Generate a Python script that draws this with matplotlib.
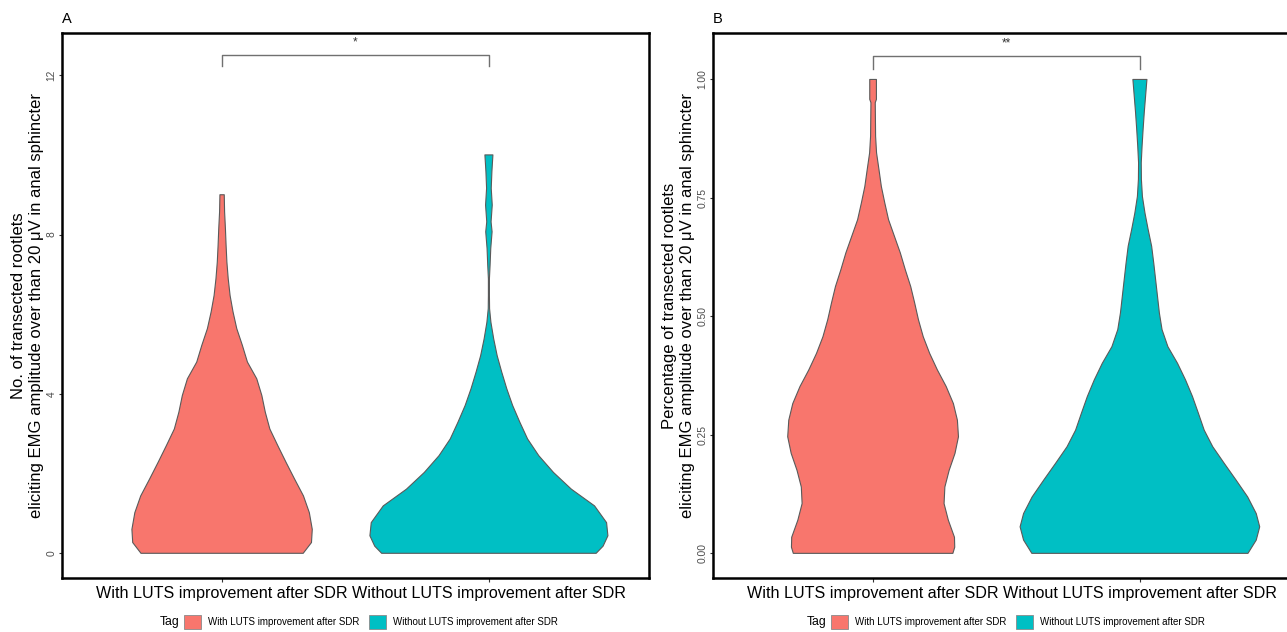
import matplotlib
matplotlib.use('Agg')
import matplotlib.pyplot as plt
from matplotlib.patches import Patch
import numpy as np

plt.rcParams.update({
    'font.family': ['Liberation Sans', 'DejaVu Sans'],
    'axes.linewidth': 1.8,
})

# groups and colours (ggplot defaults)
groups = ['With LUTS improvement after SDR', 'Without LUTS improvement after SDR']
colors = ['#F8766D', '#00BFC4']

# violin outlines: y value -> half width (x units)
# panel A, number of rootlets
a_with_y = [0, 0.27, 0.60, 1.02, 1.44, 1.86, 2.28, 2.70, 3.12, 3.54, 3.96, 4.38,
            4.80, 5.22, 5.64, 6.06, 6.47, 6.89, 7.31, 7.73, 8.15, 8.57, 9.0]
a_with_w = [0.304, 0.335, 0.338, 0.327, 0.305, 0.272, 0.240, 0.209, 0.179, 0.162, 0.149, 0.130,
            0.095, 0.076, 0.055, 0.041, 0.030, 0.023, 0.018, 0.015, 0.0125, 0.0094, 0.0081]
a_without_y = [0, 0.18, 0.44, 0.77, 1.19, 1.61, 2.03, 2.45, 2.87, 3.29, 3.71, 4.13, 4.55,
               4.96, 5.38, 5.80, 6.14, 6.47, 6.89, 7.23, 7.65, 8.07, 8.32, 8.74, 9.16, 9.58, 10.0]
a_without_w = [0.402, 0.428, 0.446, 0.441, 0.396, 0.309, 0.242, 0.187, 0.145, 0.116, 0.089, 0.067, 0.048,
               0.031, 0.018, 0.0075, 0.0025, 0.0019, 0.0019, 0.0044, 0.0069, 0.0119, 0.0081, 0.0125, 0.0087, 0.0112, 0.015]

# panel B, percentage of rootlets
b_with_y = [0, 0.013, 0.034, 0.070, 0.105, 0.140, 0.175, 0.211, 0.246, 0.281, 0.316, 0.352,
            0.387, 0.422, 0.457, 0.493, 0.528, 0.563, 0.598, 0.634, 0.669, 0.704, 0.739,
            0.774, 0.810, 0.845, 0.880, 0.951, 0.958, 1.0]
b_with_w = [0.299, 0.306, 0.305, 0.282, 0.266, 0.269, 0.285, 0.307, 0.320, 0.316, 0.301, 0.274,
            0.241, 0.212, 0.188, 0.170, 0.156, 0.141, 0.121, 0.102, 0.080, 0.058, 0.044,
            0.031, 0.022, 0.013, 0.0094, 0.0081, 0.0125, 0.0125]
b_without_y = [0, 0.028, 0.056, 0.084, 0.119, 0.155, 0.190, 0.225, 0.260, 0.296, 0.331, 0.366,
               0.401, 0.436, 0.472, 0.507, 0.542, 0.577, 0.612, 0.648, 0.683, 0.718, 0.753,
               0.789, 0.824, 0.859, 0.894, 0.930, 0.965, 1.0]
b_without_w = [0.405, 0.436, 0.449, 0.436, 0.404, 0.360, 0.316, 0.273, 0.241, 0.219, 0.197, 0.171,
               0.141, 0.105, 0.083, 0.073, 0.066, 0.059, 0.052, 0.044, 0.031, 0.019, 0.0094,
               0.0056, 0.005, 0.0081, 0.0119, 0.0163, 0.0213, 0.0263]

# significance labels
sig_a = '*'
sig_b = '**'

ylab_a = 'No. of transected rootlets\neliciting EMG amplitude over than 20 \u03bcV in anal sphincter'
ylab_b = 'Percentage of transected rootlets\neliciting EMG amplitude over than 20 \u03bcV in anal sphincter'

W, H = 1287, 632
fig = plt.figure(figsize=(W / 100, H / 100), dpi=100)


def px_axes(left, top, right, bottom):
    return fig.add_axes([left / W, 1 - bottom / H, (right - left) / W, (bottom - top) / H])


def draw_violin(ax, pos, ys, ws, color):
    ys = np.array(ys)
    ws = np.array(ws)
    xs = np.concatenate([pos - ws, (pos + ws)[::-1]])
    yy = np.concatenate([ys, ys[::-1]])
    ax.fill(xs, yy, facecolor=color, edgecolor='#5a5a5a', linewidth=0.8,
            joinstyle='round', zorder=2)


def panel(ax, profiles, ylim, yticks, yticklabels, ylab, sig, br_y, br_drop, star_y, tag):
    for i, (ys, ws) in enumerate(profiles):
        draw_violin(ax, i + 1, ys, ws, colors[i])
    ax.plot([1, 1, 2, 2], [br_y - br_drop, br_y, br_y, br_y - br_drop],
            color='#707070', linewidth=1.0, zorder=3)
    ax.text(1.5, star_y, sig, ha='center', va='center', fontsize=8.5, color='#333333')
    ax.set_xlim(0.4, 2.6)
    ax.set_ylim(*ylim)
    ax.set_xticks([1, 2])
    ax.set_xticklabels(groups, fontsize=11.6, color='black')
    ax.set_yticks(yticks)
    ax.set_yticklabels(yticklabels, fontsize=7.4, color='#4D4D4D', rotation=90, va='center')
    ax.tick_params(axis='x', length=3, width=0.8, pad=2.5, colors='#333333', labelcolor='black')
    ax.tick_params(axis='y', length=2.5, width=0.8, pad=1.5, colors='#333333', labelcolor='#4D4D4D')
    ax.set_ylabel(ylab, fontsize=12, linespacing=1.2, labelpad=2)
    for s in ax.spines.values():
        s.set_color('black')
    ax.set_title(tag, loc='left', fontsize=10.5, pad=7)


axA = px_axes(62, 33, 649, 578)
panel(axA, [(a_with_y, a_with_w), (a_without_y, a_without_w)],
      (-0.62, 13.06), [0, 4, 8, 12], ['0', '4', '8', '12'],
      ylab_a, sig_a, 12.5, 0.28, 12.83, 'A')

axB = px_axes(713, 33, 1300, 578)
panel(axB, [(b_with_y, b_with_w), (b_without_y, b_without_w)],
      (-0.052, 1.098), [0, 0.25, 0.5, 0.75, 1.0], ['0.00', '0.25', '0.50', '0.75', '1.00'],
      ylab_b, sig_b, 1.049, 0.028, 1.076, 'B')

# legends at the bottom, one under each panel
handles = [Patch(facecolor=c, edgecolor='#8a8a8a', linewidth=0.6) for c in colors]
for tag_x, sw_x in [(180, 184), (827, 831)]:
    fig.text(tag_x / W, 1 - 622 / H, 'Tag', ha='right', va='center', fontsize=8.8)
    fig.legend(handles, groups, loc='center left', bbox_to_anchor=(sw_x / W, 1 - 622 / H),
               ncol=2, frameon=False, fontsize=7, borderpad=0, borderaxespad=0,
               handlelength=1.75, handleheight=1.75, handletextpad=0.7, columnspacing=1.0)

fig.savefig('out.png', dpi=100)
